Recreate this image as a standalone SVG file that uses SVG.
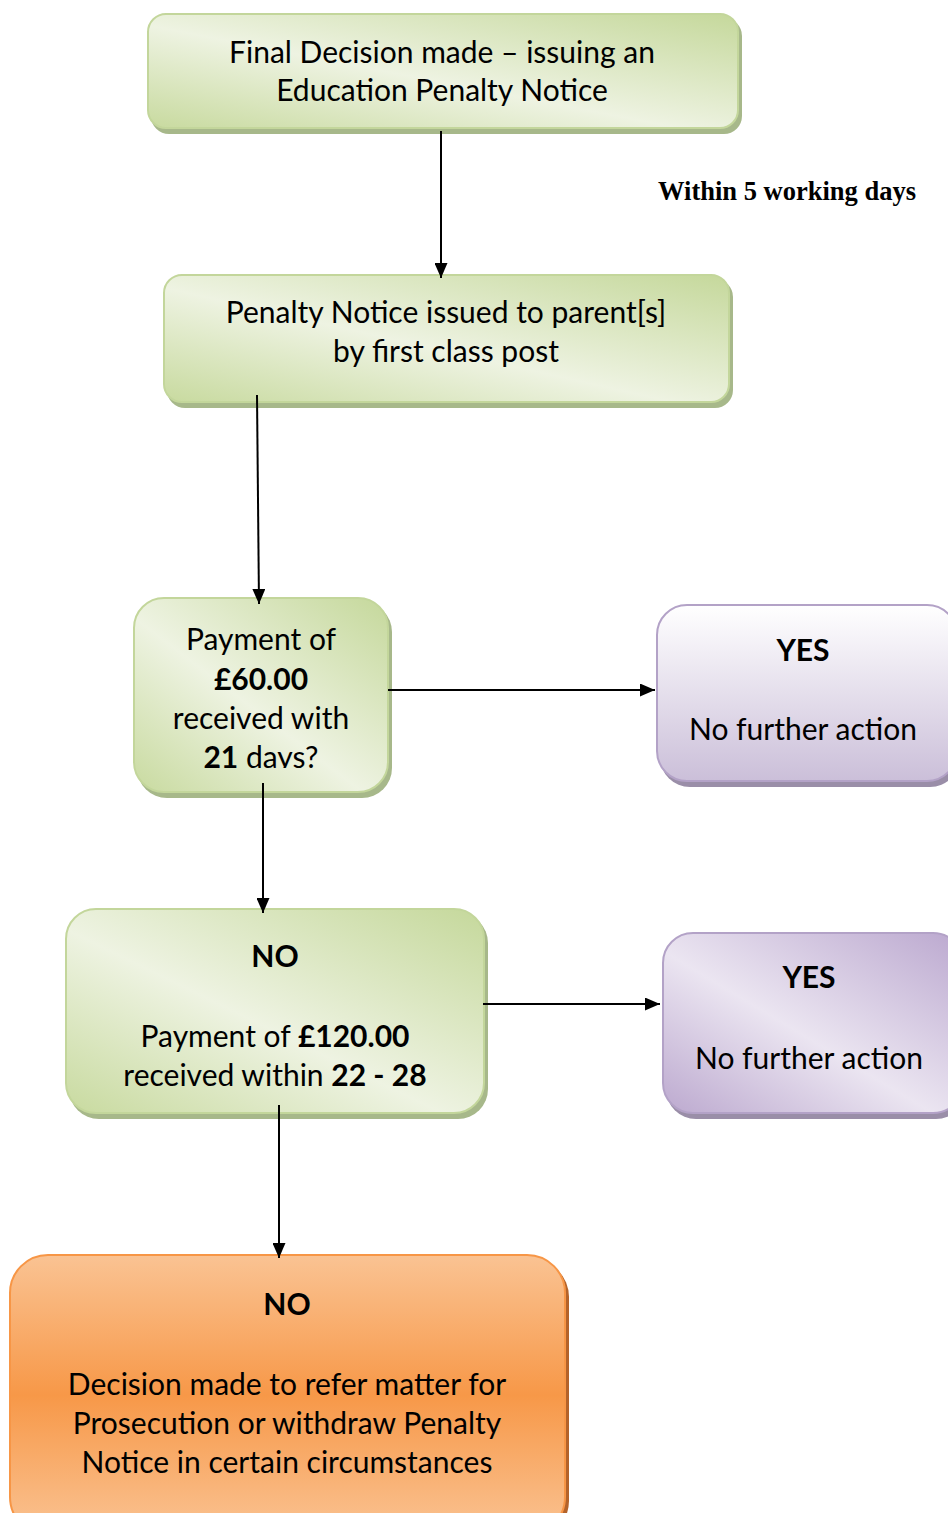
<svg xmlns="http://www.w3.org/2000/svg" width="948" height="1513" viewBox="0 0 948 1513">
<defs>
<linearGradient id="gGreen" x1="0" y1="1" x2="1" y2="0">
<stop offset="0" stop-color="#c8da9f"/>
<stop offset="0.45" stop-color="#eef3e2"/>
<stop offset="1" stop-color="#c5d89b"/>
</linearGradient>
<linearGradient id="gPurple" x1="0" y1="0" x2="0" y2="1">
<stop offset="0" stop-color="#ffffff"/>
<stop offset="1" stop-color="#cbbfd9"/>
</linearGradient>
<linearGradient id="gPurple2" x1="0" y1="1" x2="1" y2="0">
<stop offset="0" stop-color="#bca9cf"/>
<stop offset="0.45" stop-color="#ebe5f1"/>
<stop offset="1" stop-color="#bba8cf"/>
</linearGradient>
<linearGradient id="gOrange" x1="0" y1="0" x2="0" y2="1">
<stop offset="0" stop-color="#fac393"/>
<stop offset="0.5" stop-color="#f79848"/>
<stop offset="1" stop-color="#fac393"/>
</linearGradient>
<marker id="arr" viewBox="0 0 10 10" refX="10" refY="5" markerWidth="15" markerHeight="13" markerUnits="userSpaceOnUse" orient="auto" preserveAspectRatio="none">
<path d="M0,0 L10,5 L0,10 z" fill="#000"/>
</marker>
<clipPath id="clip3"><rect x="134" y="598" width="256" height="170"/></clipPath>
</defs>
<style>
.t{font-family:Lato,"Open Sans",sans-serif;font-size:30px;fill:#000;text-anchor:middle}
.b{font-weight:bold}
.green{fill:url(#gGreen);stroke:#c3d69b;stroke-width:2}
.gsh{fill:#a7b88a}
.purple{fill:url(#gPurple);stroke:#b3a2c7;stroke-width:2}
.purple2{fill:url(#gPurple2);stroke:#b3a2c7;stroke-width:2}
.psh{fill:#9a8ea8}
.orange{fill:url(#gOrange);stroke:#f79646;stroke-width:2}
.osh{fill:#b4632a}
.c{stroke:#000;stroke-width:2;fill:none;marker-end:url(#arr)}
</style>

<g id="node1">
<rect class="gsh" x="151" y="18" width="591" height="116" rx="18"/>
<rect class="green" x="148" y="14" width="590" height="114" rx="18"/>
<text class="t" x="442" y="63">Final Decision made – issuing an</text>
<text class="t" x="442" y="101">Education Penalty Notice</text>
</g>

<g id="label-within">
<text x="658" y="200" style="font-family:'Liberation Serif',serif;font-weight:bold;font-size:26.5px;fill:#000">Within 5 working days</text>
</g>

<g id="node2">
<rect class="gsh" x="167" y="279" width="566" height="129" rx="18"/>
<rect class="green" x="164" y="275" width="565" height="127" rx="18"/>
<text class="t" x="446" y="323">Penalty Notice issued to parent[s]</text>
<text class="t" x="446" y="362">by first class post</text>
</g>

<g id="node3">
<rect class="gsh" x="137" y="602" width="255" height="196" rx="30"/>
<rect class="green" x="134" y="598" width="254" height="194" rx="30"/>
<g clip-path="url(#clip3)">
<text class="t" x="261" y="650">Payment of</text>
<text class="t b" x="261" y="690">£60.00</text>
<text class="t" x="261" y="729">received with</text>
<text class="t" x="261" y="768"><tspan class="b">21</tspan> days?</text>
</g>
</g>

<g id="node4">
<rect class="psh" x="660" y="609" width="300" height="178" rx="30"/>
<rect class="purple" x="657" y="605" width="300" height="176" rx="30"/>
<text class="t b" x="803" y="661">YES</text>
<text class="t" x="803" y="740">No further action</text>
</g>

<g id="node5">
<rect class="gsh" x="69" y="913" width="419" height="206" rx="30"/>
<rect class="green" x="66" y="909" width="418" height="204" rx="30"/>
<text class="t b" x="275" y="967">NO</text>
<text class="t" x="275" y="1047">Payment of <tspan class="b">£120.00</tspan></text>
<text class="t" x="275" y="1086">received within <tspan class="b">22 - 28</tspan></text>
</g>

<g id="node6">
<rect class="psh" x="666" y="937" width="300" height="182" rx="30"/>
<rect class="purple2" x="663" y="933" width="300" height="180" rx="30"/>
<text class="t b" x="809" y="988">YES</text>
<text class="t" x="809" y="1069">No further action</text>
</g>

<g id="node7">
<rect class="osh" x="13" y="1259" width="556" height="280" rx="38"/>
<rect class="orange" x="10" y="1255" width="555" height="280" rx="38"/>
<text class="t b" x="287" y="1315">NO</text>
<text class="t" x="287" y="1395">Decision made to refer matter for</text>
<text class="t" x="287" y="1434">Prosecution or withdraw Penalty</text>
<text class="t" x="287" y="1473">Notice in certain circumstances</text>
</g>

<g id="connectors">
<line class="c" x1="441" y1="131" x2="441" y2="278"/>
<line class="c" x1="257" y1="395" x2="259" y2="604"/>
<line class="c" x1="388" y1="690" x2="655" y2="690"/>
<line class="c" x1="263" y1="783" x2="263" y2="913"/>
<line class="c" x1="483" y1="1004" x2="660" y2="1004"/>
<line class="c" x1="279" y1="1105" x2="279" y2="1258"/>
</g>
</svg>
